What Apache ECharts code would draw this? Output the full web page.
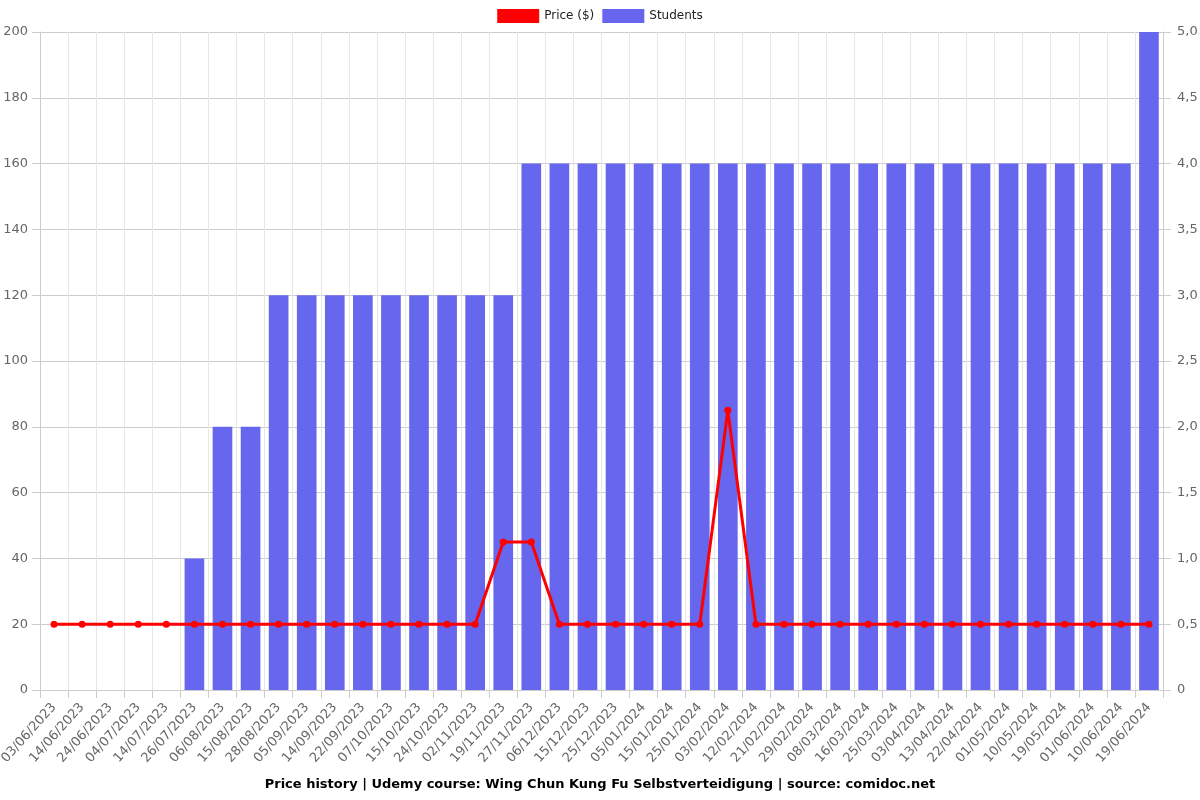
<!DOCTYPE html>
<html>
<head>
<meta charset="utf-8">
<script src="https://cdn.jsdelivr.net/npm/echarts@6/dist/echarts.min.js"></script>
<style>
  html, body { margin: 0; padding: 0; background: #fff; }
  #chart { width: 1200px; height: 800px; }
</style>
</head>
<body>
<div id="chart"></div>
<script>
// dates
var dates = ['03/06/2023', '14/06/2023', '24/06/2023', '04/07/2023', '14/07/2023', '26/07/2023', '06/08/2023', '15/08/2023',
  '28/08/2023', '05/09/2023', '14/09/2023', '22/09/2023', '07/10/2023', '15/10/2023', '24/10/2023', '02/11/2023',
  '19/11/2023', '27/11/2023', '06/12/2023', '15/12/2023', '25/12/2023', '05/01/2024', '15/01/2024', '25/01/2024',
  '03/02/2024', '12/02/2024', '21/02/2024', '29/02/2024', '08/03/2024', '16/03/2024', '25/03/2024', '03/04/2024',
  '13/04/2024', '22/04/2024', '01/05/2024', '10/05/2024', '19/05/2024', '01/06/2024', '10/06/2024', '19/06/2024'];

var price = [20, 20, 20, 20, 20, 20, 20, 20, 20, 20, 20, 20, 20, 20, 20, 20,
  45, 45, 20, 20, 20, 20, 20, 20, 85, 20, 20, 20, 20, 20, 20, 20,
  20, 20, 20, 20, 20, 20, 20, 20];

var students = [0, 0, 0, 0, 0, 1, 2, 2, 3, 3, 3, 3, 3, 3, 3, 3,
  3, 4, 4, 4, 4, 4, 4, 4, 4, 4, 4, 4, 4, 4, 4, 4,
  4, 4, 4, 4, 4, 4, 4, 5];

var chart = echarts.init(document.getElementById('chart'));

var option = {
  animation: false,
  textStyle: { fontFamily: 'DejaVu Sans' },
  title: {
    text: 'Price history | Udemy course: Wing Chun Kung Fu Selbstverteidigung | source: comidoc.net',
    left: 'center',
    bottom: 4,
    textStyle: { fontSize: 13, fontWeight: 'bold', color: '#000', fontFamily: 'DejaVu Sans' }
  },
  legend: {
    top: 4,
    left: 'center',
    itemWidth: 42,
    itemHeight: 14,
    itemGap: 8,
    icon: 'rect',
    textStyle: { fontSize: 12, color: '#222', fontFamily: 'DejaVu Sans' },
    data: ['Price ($)', 'Students']
  },
  grid: { left: 40, right: 37, top: 32, bottom: 110, outerBoundsMode: 'none', containLabel: false },
  xAxis: {
    type: 'category',
    data: dates,
    boundaryGap: true,
    axisLine: { lineStyle: { color: '#ccc' } },
    axisTick: { show: true, length: 8, lineStyle: { color: '#ccc' } },
    splitLine: { show: true, lineStyle: { color: '#e6e6e6' } },
    axisLabel: { rotate: 48, interval: 0, fontSize: 13, color: '#666', margin: 15 }
  },
  yAxis: [
    {
      type: 'value',
      min: 0, max: 200, interval: 20,
      axisLine: { show: true, lineStyle: { color: '#ccc' } },
      axisTick: { show: true, length: 8, lineStyle: { color: '#ccc' } },
      splitLine: { lineStyle: { color: '#ccc' } },
      axisLabel: { fontSize: 13, color: '#666', margin: 12 }
    },
    {
      type: 'value',
      min: 0, max: 5, interval: 0.5,
      axisLine: { show: true, lineStyle: { color: '#ccc' } },
      axisTick: { show: true, length: 8, lineStyle: { color: '#ccc' } },
      splitLine: { show: false },
      axisLabel: {
        fontSize: 13, color: '#666', margin: 14,
        formatter: function (v) { return v === 0 ? '0' : v.toFixed(1).replace('.', ','); }
      }
    }
  ],
  series: [
    {
      name: 'Price ($)',
      type: 'line',
      yAxisIndex: 0,
      data: price,
      z: 3,
      symbol: 'circle',
      symbolSize: 7,
      lineStyle: { color: '#ff0000', width: 3 },
      itemStyle: { color: '#ff0000' }
    },
    {
      name: 'Students',
      type: 'bar',
      yAxisIndex: 1,
      data: students,
      z: 2,
      barWidth: '70%',
      itemStyle: { color: '#6666ee' }
    }
  ]
};

chart.setOption(option);
</script>
</body>
</html>
